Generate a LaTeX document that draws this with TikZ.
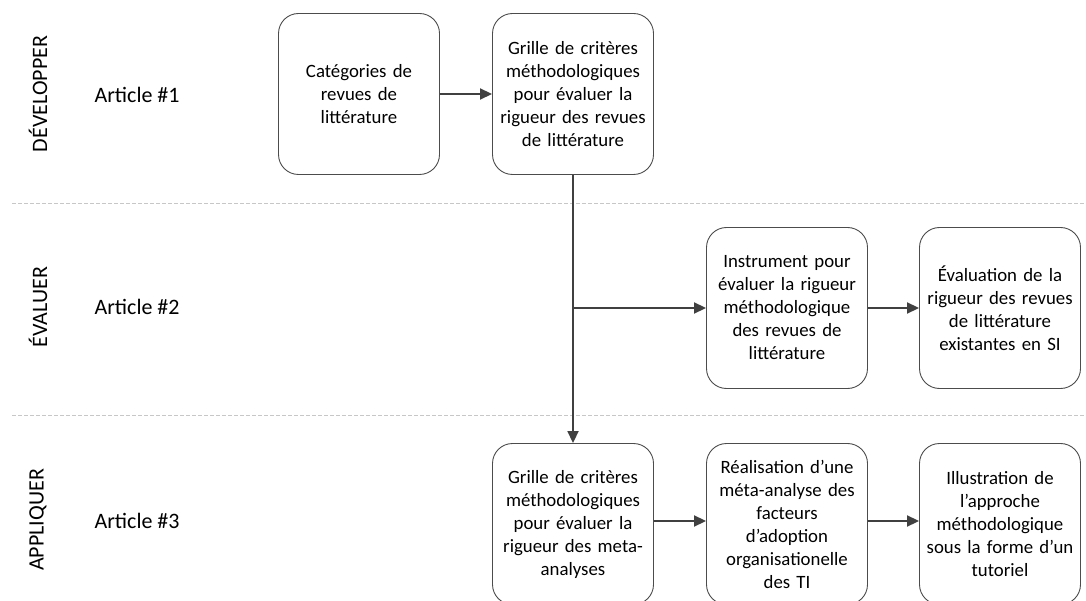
\documentclass[tikz,border=0pt]{standalone}
\usepackage{fontspec}
\setmainfont{Carlito}
\usetikzlibrary{arrows.meta}
\begin{document}
\begin{tikzpicture}[x=1pt,y=-1pt,
  stage/.style={draw=black!70,line width=0.9pt,rounded corners=20pt,
    minimum width=161pt,minimum height=161pt,inner sep=2pt,
    align=center,text width=152pt,font=\fontsize{18.8}{23}\selectfont},
  flow/.style={draw=black!75,line width=1.8pt,-{Triangle[length=12pt,width=11pt]}},
  lane/.style={draw=black!22,line width=1pt,dash pattern=on 4pt off 2pt},
  phase/.style={rotate=90,font=\fontsize{22}{25}\selectfont},
  art/.style={anchor=west,font=\fontsize{22}{25}\selectfont}]
\useasboundingbox (0,0) rectangle (1086,601);

% lane separators
\draw[lane] (12,204) -- (1086,204);
\draw[lane] (12,415) -- (1086,415);

% phase labels
\node[phase] (p1) at (38,94) {DÉVELOPPER};
\node[phase] (p2) at (38,307) {ÉVALUER};
\node[phase] (p3) at (38,520) {APPLIQUER};

\node[art] (a1) at (91,95) {Article \#1};
\node[art] (a2) at (91,307) {Article \#2};
\node[art] (a3) at (91,521) {Article \#3};

% stages
\node[stage] (cat) at (359,94) {Catégories de\\revues de\\littérature};
\node[stage] (grille) at (573,94) {Grille de critères\\méthodologiques\\pour évaluer la\\rigueur des revues\\de littérature};
\node[stage] (instr) at (787,308) {Instrument pour\\évaluer la rigueur\\méthodologique\\des revues de\\littérature};
\node[stage] (eval) at (1000,308) {Évaluation de la\\rigueur des revues\\de littérature\\existantes en SI};
\node[stage] (meta) at (573,524) {Grille de critères\\méthodologiques\\pour évaluer la\\rigueur des meta-\\analyses};
\node[stage] (real) at (787,524) {Réalisation d’une\\méta-analyse des\\facteurs\\d’adoption\\organisationelle\\des TI};
\node[stage] (illu) at (1000,524) {Illustration de\\l’approche\\méthodologique\\sous la forme d’un\\tutoriel};

% connectors
\coordinate (branch) at (grille.south |- instr.west);
\draw[flow] (cat) -- (grille);
\draw[flow] (grille.south) -- (meta.north);
\draw[flow] (branch) -- (instr.west);
\draw[flow] (instr) -- (eval);
\draw[flow] (meta.east |- 0,521) -- (real.west |- 0,521);
\draw[flow] (real.east |- 0,521) -- (illu.west |- 0,521);
\end{tikzpicture}
\end{document}
